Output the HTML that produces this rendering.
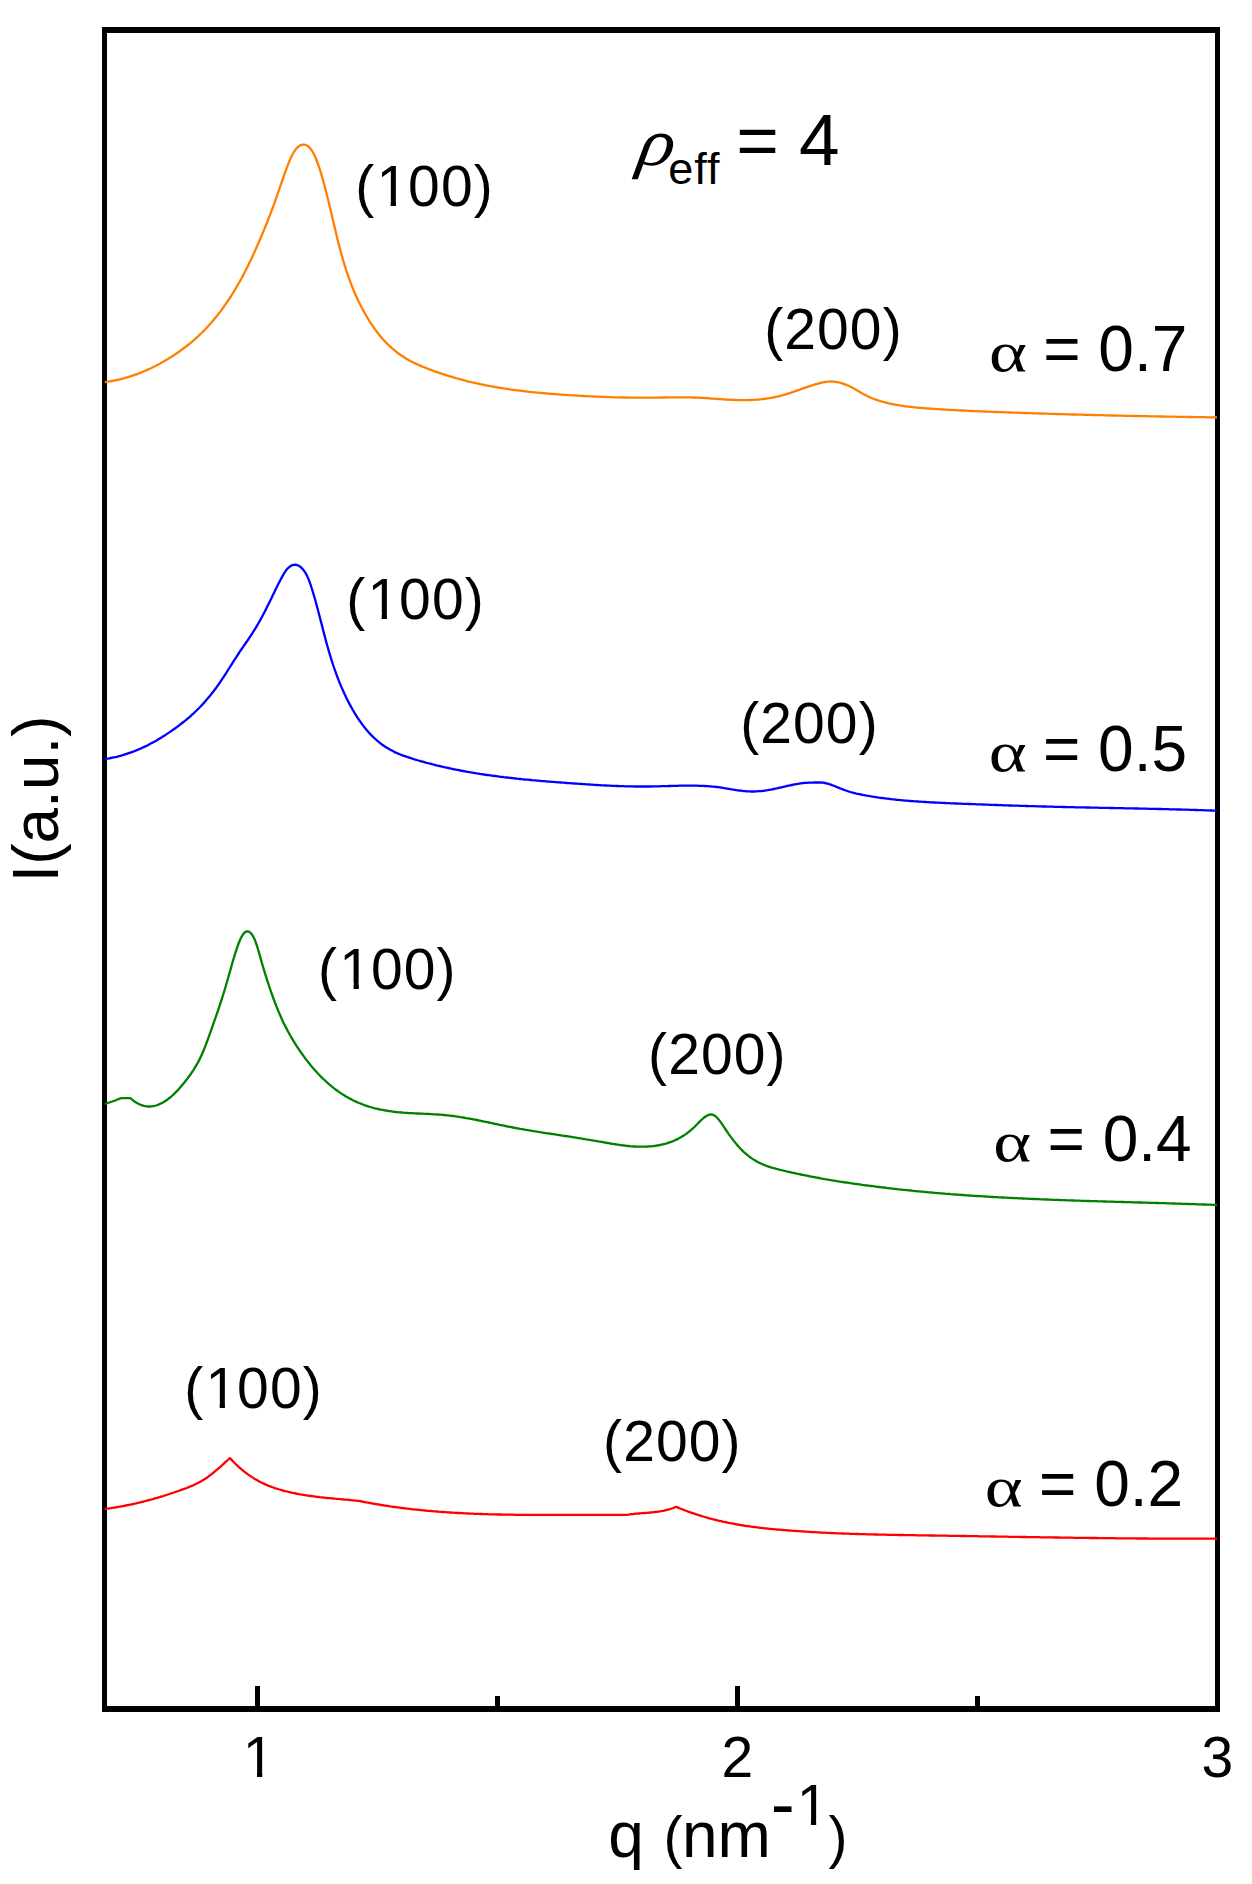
<!DOCTYPE html>
<html><head><meta charset="utf-8"><title>SAXS profiles</title>
<style>
html,body{margin:0;padding:0;background:#fff;}
svg{display:block;}
text{font-family:'Liberation Sans',sans-serif;fill:#000;}
text.gr{font-family:'Liberation Serif','DejaVu Serif',serif;}
</style></head>
<body>
<svg width="1252" height="1884" viewBox="0 0 1252 1884">
<defs>
<clipPath id="c1"><path clip-rule="evenodd" d="M-20,-80 H220 V40 H-20 Z M2.84,-5.86 H14.23 V3 H2.84 Z M19.47,-5.86 H30.42 V3 H19.47 Z"/></clipPath>
<clipPath id="c100"><path clip-rule="evenodd" d="M-20,-80 H220 V40 H-20 Z M24.12,-5.86 H35.51 V3 H24.12 Z M40.75,-5.86 H51.70 V3 H40.75 Z"/></clipPath>
</defs>
<rect x="0" y="0" width="1252" height="1884" fill="#fff"/>
<g id="frame" fill="#000" shape-rendering="crispEdges">
<rect x="102" y="27" width="1118" height="6"/>
<rect x="102" y="1706" width="1118" height="6"/>
<rect x="102" y="27" width="5" height="1685"/>
<rect x="1215" y="27" width="5" height="1685"/>
<rect x="255" y="1686" width="5" height="22"/>
<rect x="735" y="1686" width="5" height="22"/>
<rect x="495" y="1696" width="5" height="12"/>
<rect x="975" y="1696" width="5" height="12"/>
</g>
<g id="curves">
<path d="M104.8,382.1 L106.3,381.9 L107.8,381.7 L109.3,381.4 L110.8,381.2 L112.3,380.9 L113.8,380.6 L115.3,380.3 L116.8,380.0 L118.3,379.7 L119.8,379.3 L121.3,379.0 L122.8,378.6 L124.3,378.2 L125.8,377.7 L127.3,377.3 L128.8,376.9 L130.3,376.4 L131.8,375.9 L133.3,375.4 L134.8,374.9 L136.3,374.3 L137.8,373.8 L139.3,373.2 L140.8,372.6 L142.3,372.0 L143.8,371.4 L145.3,370.8 L146.8,370.1 L148.3,369.4 L149.8,368.7 L151.3,368.0 L152.8,367.3 L154.3,366.5 L155.8,365.8 L157.3,365.0 L158.8,364.2 L160.3,363.4 L161.8,362.5 L163.3,361.7 L164.8,360.8 L166.3,359.9 L167.8,359.0 L169.3,358.1 L170.8,357.2 L172.3,356.2 L173.8,355.2 L175.3,354.2 L176.8,353.2 L178.3,352.2 L179.8,351.1 L181.3,350.0 L182.8,348.9 L184.3,347.8 L185.8,346.7 L187.3,345.5 L188.8,344.3 L190.3,343.1 L191.8,341.8 L193.3,340.6 L194.8,339.3 L196.3,337.9 L197.8,336.5 L199.3,335.1 L200.8,333.7 L202.3,332.2 L203.8,330.7 L205.3,329.2 L206.8,327.6 L208.3,326.0 L209.8,324.4 L211.3,322.7 L212.8,320.9 L214.3,319.1 L215.8,317.3 L217.3,315.4 L218.8,313.5 L220.3,311.6 L221.8,309.6 L223.3,307.5 L224.8,305.4 L226.3,303.2 L227.8,301.0 L229.3,298.8 L230.8,296.5 L232.3,294.1 L233.8,291.7 L235.3,289.2 L236.8,286.6 L238.3,284.0 L239.8,281.4 L241.3,278.7 L242.8,275.9 L244.3,273.0 L245.8,270.1 L247.3,267.2 L248.8,264.1 L250.3,261.0 L251.8,257.9 L253.3,254.6 L254.8,251.3 L256.3,248.0 L257.8,244.5 L259.3,241.1 L260.8,237.5 L262.3,234.0 L263.8,230.4 L265.3,226.7 L266.8,223.0 L268.3,219.2 L269.8,215.4 L271.3,211.5 L272.8,207.5 L274.3,203.4 L275.8,199.2 L277.3,194.9 L278.8,190.5 L280.3,186.2 L281.8,181.8 L283.3,177.5 L284.8,173.2 L286.3,169.1 L287.8,165.1 L289.3,161.4 L290.8,157.9 L292.3,154.8 L293.8,152.2 L295.3,149.9 L296.8,148.1 L298.3,146.6 L299.8,145.6 L301.3,144.9 L302.8,144.6 L304.3,144.6 L305.8,145.0 L307.3,145.7 L308.8,146.9 L310.3,148.5 L311.8,150.5 L313.3,153.0 L314.8,156.0 L316.3,159.5 L317.8,163.5 L319.3,167.8 L320.8,172.6 L322.3,177.6 L323.8,183.0 L325.3,188.6 L326.8,194.5 L328.3,200.5 L329.8,206.7 L331.3,213.0 L332.8,219.4 L334.3,225.8 L335.8,232.1 L337.3,238.4 L338.8,244.4 L340.3,250.1 L341.8,255.6 L343.3,260.8 L344.8,265.8 L346.3,270.5 L347.8,274.9 L349.3,279.2 L350.8,283.2 L352.3,287.1 L353.8,290.8 L355.3,294.3 L356.8,297.6 L358.3,300.8 L359.8,303.8 L361.3,306.8 L362.8,309.6 L364.3,312.3 L365.8,315.0 L367.3,317.5 L368.8,320.0 L370.3,322.4 L371.8,324.7 L373.3,326.9 L374.8,329.0 L376.3,331.0 L377.8,333.0 L379.3,334.9 L380.8,336.7 L382.3,338.5 L383.8,340.2 L385.3,341.8 L386.8,343.4 L388.3,344.8 L389.8,346.3 L391.3,347.7 L392.8,349.0 L394.3,350.2 L395.8,351.5 L397.3,352.6 L398.8,353.7 L400.3,354.8 L401.8,355.8 L403.3,356.8 L404.8,357.8 L406.3,358.7 L407.8,359.5 L409.3,360.4 L410.8,361.2 L412.3,361.9 L413.8,362.7 L415.3,363.4 L416.8,364.1 L418.3,364.8 L419.8,365.4 L421.3,366.1 L422.8,366.7 L424.3,367.3 L425.8,367.9 L427.3,368.5 L428.8,369.1 L430.3,369.6 L431.8,370.2 L433.3,370.8 L434.8,371.3 L436.3,371.8 L437.8,372.4 L439.3,372.9 L440.8,373.4 L442.3,373.9 L443.8,374.4 L445.3,374.9 L446.8,375.4 L448.3,375.8 L449.8,376.3 L451.3,376.7 L452.8,377.2 L454.3,377.6 L455.8,378.1 L457.3,378.5 L458.8,378.9 L460.3,379.3 L461.8,379.7 L463.3,380.1 L464.8,380.5 L466.3,380.9 L467.8,381.3 L469.3,381.6 L470.8,382.0 L472.3,382.4 L473.8,382.7 L475.3,383.0 L476.8,383.4 L478.3,383.7 L479.8,384.0 L481.3,384.4 L482.8,384.7 L484.3,385.0 L485.8,385.3 L487.3,385.6 L488.8,385.9 L490.3,386.1 L491.8,386.4 L493.3,386.7 L494.8,387.0 L496.3,387.2 L497.8,387.5 L499.3,387.7 L500.8,388.0 L502.3,388.2 L503.8,388.4 L505.3,388.7 L506.8,388.9 L508.3,389.1 L509.8,389.3 L511.3,389.6 L512.8,389.8 L514.3,390.0 L515.8,390.2 L517.3,390.4 L518.8,390.6 L520.3,390.7 L521.8,390.9 L523.3,391.1 L524.8,391.3 L526.3,391.4 L527.8,391.6 L529.3,391.8 L530.8,391.9 L532.3,392.1 L533.8,392.3 L535.3,392.4 L536.8,392.6 L538.3,392.7 L539.8,392.8 L541.3,393.0 L542.8,393.1 L544.3,393.2 L545.8,393.4 L547.3,393.5 L548.8,393.6 L550.3,393.8 L551.8,393.9 L553.3,394.0 L554.8,394.1 L556.3,394.2 L557.8,394.3 L559.3,394.4 L560.8,394.6 L562.3,394.7 L563.8,394.8 L565.3,394.9 L566.8,395.0 L568.3,395.1 L569.8,395.2 L571.3,395.3 L572.8,395.4 L574.3,395.4 L575.8,395.5 L577.3,395.6 L578.8,395.7 L580.3,395.8 L581.8,395.9 L583.3,396.0 L584.8,396.1 L586.3,396.1 L587.8,396.2 L589.3,396.3 L590.8,396.4 L592.3,396.4 L593.8,396.5 L595.3,396.6 L596.8,396.6 L598.3,396.7 L599.8,396.8 L601.3,396.8 L602.8,396.9 L604.3,396.9 L605.8,397.0 L607.3,397.1 L608.8,397.1 L610.3,397.2 L611.8,397.2 L613.3,397.3 L614.8,397.3 L616.3,397.3 L617.8,397.4 L619.3,397.4 L620.8,397.4 L622.3,397.5 L623.8,397.5 L625.3,397.5 L626.8,397.6 L628.3,397.6 L629.8,397.6 L631.3,397.6 L632.8,397.7 L634.3,397.7 L635.8,397.7 L637.3,397.7 L638.8,397.7 L640.3,397.7 L641.8,397.7 L643.3,397.7 L644.8,397.7 L646.3,397.7 L647.8,397.7 L649.3,397.7 L650.8,397.7 L652.3,397.7 L653.8,397.6 L655.3,397.6 L656.8,397.6 L658.3,397.6 L659.8,397.6 L661.3,397.5 L662.8,397.5 L664.3,397.5 L665.8,397.5 L667.3,397.4 L668.8,397.4 L670.3,397.4 L671.8,397.4 L673.3,397.4 L674.8,397.3 L676.3,397.3 L677.8,397.3 L679.3,397.3 L680.8,397.3 L682.3,397.3 L683.8,397.3 L685.3,397.3 L686.8,397.3 L688.3,397.4 L689.8,397.4 L691.3,397.4 L692.8,397.5 L694.3,397.5 L695.8,397.6 L697.3,397.6 L698.8,397.7 L700.3,397.8 L701.8,397.9 L703.3,397.9 L704.8,398.0 L706.3,398.1 L707.8,398.2 L709.3,398.3 L710.8,398.5 L712.3,398.6 L713.8,398.7 L715.3,398.8 L716.8,398.9 L718.3,399.0 L719.8,399.1 L721.3,399.2 L722.8,399.3 L724.3,399.4 L725.8,399.5 L727.3,399.6 L728.8,399.7 L730.3,399.8 L731.8,399.8 L733.3,399.9 L734.8,400.0 L736.3,400.0 L737.8,400.1 L739.3,400.1 L740.8,400.1 L742.3,400.1 L743.8,400.1 L745.3,400.1 L746.8,400.1 L748.3,400.1 L749.8,400.0 L751.3,400.0 L752.8,399.9 L754.3,399.8 L755.8,399.7 L757.3,399.6 L758.8,399.5 L760.3,399.3 L761.8,399.2 L763.3,399.0 L764.8,398.8 L766.3,398.6 L767.8,398.4 L769.3,398.2 L770.8,397.9 L772.3,397.6 L773.8,397.3 L775.3,397.0 L776.8,396.7 L778.3,396.3 L779.8,396.0 L781.3,395.6 L782.8,395.2 L784.3,394.7 L785.8,394.3 L787.3,393.8 L788.8,393.3 L790.3,392.9 L791.8,392.4 L793.3,391.9 L794.8,391.3 L796.3,390.8 L797.8,390.3 L799.3,389.8 L800.8,389.2 L802.3,388.7 L803.8,388.2 L805.3,387.7 L806.8,387.1 L808.3,386.6 L809.8,386.1 L811.3,385.6 L812.8,385.1 L814.3,384.7 L815.8,384.2 L817.3,383.8 L818.8,383.3 L820.3,383.0 L821.8,382.6 L823.3,382.3 L824.8,382.0 L826.3,381.8 L827.8,381.7 L829.3,381.6 L830.8,381.5 L832.3,381.6 L833.8,381.7 L835.3,381.8 L836.8,382.1 L838.3,382.3 L839.8,382.7 L841.3,383.1 L842.8,383.6 L844.3,384.1 L845.8,384.6 L847.3,385.3 L848.8,385.9 L850.3,386.7 L851.8,387.4 L853.3,388.3 L854.8,389.1 L856.3,390.0 L857.8,390.8 L859.3,391.7 L860.8,392.6 L862.3,393.5 L863.8,394.3 L865.3,395.1 L866.8,395.8 L868.3,396.6 L869.8,397.2 L871.3,397.9 L872.8,398.5 L874.3,399.0 L875.8,399.6 L877.3,400.1 L878.8,400.6 L880.3,401.0 L881.8,401.5 L883.3,401.9 L884.8,402.3 L886.3,402.7 L887.8,403.1 L889.3,403.4 L890.8,403.8 L892.3,404.1 L893.8,404.4 L895.3,404.7 L896.8,404.9 L898.3,405.2 L899.8,405.4 L901.3,405.7 L902.8,405.9 L904.3,406.1 L905.8,406.3 L907.3,406.5 L908.8,406.7 L910.3,406.8 L911.8,407.0 L913.3,407.2 L914.8,407.3 L916.3,407.5 L917.8,407.6 L919.3,407.8 L920.8,407.9 L922.3,408.0 L923.8,408.1 L925.3,408.3 L926.8,408.4 L928.3,408.5 L929.8,408.6 L931.3,408.7 L932.8,408.8 L934.3,408.9 L935.8,409.0 L937.3,409.1 L938.8,409.2 L940.3,409.3 L941.8,409.4 L943.3,409.5 L944.8,409.6 L946.3,409.7 L947.8,409.8 L949.3,409.9 L950.8,409.9 L952.3,410.0 L953.8,410.1 L955.3,410.2 L956.8,410.2 L958.3,410.3 L959.8,410.4 L961.3,410.5 L962.8,410.5 L964.3,410.6 L965.8,410.7 L967.3,410.7 L968.8,410.8 L970.3,410.9 L971.8,411.0 L973.3,411.0 L974.8,411.1 L976.3,411.2 L977.8,411.2 L979.3,411.3 L980.8,411.3 L982.3,411.4 L983.8,411.5 L985.3,411.5 L986.8,411.6 L988.3,411.7 L989.8,411.7 L991.3,411.8 L992.8,411.8 L994.3,411.9 L995.8,412.0 L997.3,412.0 L998.8,412.1 L1000.3,412.1 L1001.8,412.2 L1003.3,412.2 L1004.8,412.3 L1006.3,412.4 L1007.8,412.4 L1009.3,412.5 L1010.8,412.5 L1012.3,412.6 L1013.8,412.6 L1015.3,412.7 L1016.8,412.7 L1018.3,412.8 L1019.8,412.8 L1021.3,412.9 L1022.8,412.9 L1024.3,413.0 L1025.8,413.0 L1027.3,413.1 L1028.8,413.1 L1030.3,413.2 L1031.8,413.2 L1033.3,413.3 L1034.8,413.3 L1036.3,413.4 L1037.8,413.4 L1039.3,413.5 L1040.8,413.5 L1042.3,413.6 L1043.8,413.6 L1045.3,413.7 L1046.8,413.7 L1048.3,413.7 L1049.8,413.8 L1051.3,413.8 L1052.8,413.9 L1054.3,413.9 L1055.8,414.0 L1057.3,414.0 L1058.8,414.1 L1060.3,414.1 L1061.8,414.2 L1063.3,414.2 L1064.8,414.2 L1066.3,414.3 L1067.8,414.3 L1069.3,414.4 L1070.8,414.4 L1072.3,414.5 L1073.8,414.5 L1075.3,414.5 L1076.8,414.6 L1078.3,414.6 L1079.8,414.7 L1081.3,414.7 L1082.8,414.7 L1084.3,414.8 L1085.8,414.8 L1087.3,414.9 L1088.8,414.9 L1090.3,414.9 L1091.8,415.0 L1093.3,415.0 L1094.8,415.1 L1096.3,415.1 L1097.8,415.1 L1099.3,415.2 L1100.8,415.2 L1102.3,415.2 L1103.8,415.3 L1105.3,415.3 L1106.8,415.3 L1108.3,415.4 L1109.8,415.4 L1111.3,415.5 L1112.8,415.5 L1114.3,415.5 L1115.8,415.6 L1117.3,415.6 L1118.8,415.6 L1120.3,415.7 L1121.8,415.7 L1123.3,415.7 L1124.8,415.8 L1126.3,415.8 L1127.8,415.8 L1129.3,415.9 L1130.8,415.9 L1132.3,415.9 L1133.8,416.0 L1135.3,416.0 L1136.8,416.0 L1138.3,416.1 L1139.8,416.1 L1141.3,416.1 L1142.8,416.2 L1144.3,416.2 L1145.8,416.2 L1147.3,416.2 L1148.8,416.3 L1150.3,416.3 L1151.8,416.3 L1153.3,416.4 L1154.8,416.4 L1156.3,416.4 L1157.8,416.4 L1159.3,416.5 L1160.8,416.5 L1162.3,416.5 L1163.8,416.6 L1165.3,416.6 L1166.8,416.6 L1168.3,416.6 L1169.8,416.7 L1171.3,416.7 L1172.8,416.7 L1174.3,416.7 L1175.8,416.8 L1177.3,416.8 L1178.8,416.8 L1180.3,416.9 L1181.8,416.9 L1183.3,416.9 L1184.8,416.9 L1186.3,416.9 L1187.8,417.0 L1189.3,417.0 L1190.8,417.0 L1192.3,417.0 L1193.8,417.1 L1195.3,417.1 L1196.8,417.1 L1198.3,417.1 L1199.8,417.2 L1201.3,417.2 L1202.8,417.2 L1204.3,417.2 L1205.8,417.2 L1207.3,417.3 L1208.8,417.3 L1210.3,417.3 L1211.8,417.3 L1213.3,417.4 L1214.8,417.4 L1216.3,417.4 L1217.0,417.4" fill="none" stroke="#ff8000" stroke-width="2.3" stroke-linejoin="round"/>
<path d="M104.8,759.0 L106.3,758.8 L107.8,758.6 L109.3,758.3 L110.8,758.0 L112.3,757.7 L113.8,757.4 L115.3,757.1 L116.8,756.8 L118.3,756.4 L119.8,756.0 L121.3,755.6 L122.8,755.2 L124.3,754.7 L125.8,754.2 L127.3,753.7 L128.8,753.2 L130.3,752.7 L131.8,752.2 L133.3,751.6 L134.8,751.0 L136.3,750.4 L137.8,749.8 L139.3,749.1 L140.8,748.5 L142.3,747.8 L143.8,747.1 L145.3,746.4 L146.8,745.7 L148.3,744.9 L149.8,744.1 L151.3,743.3 L152.8,742.5 L154.3,741.7 L155.8,740.9 L157.3,740.0 L158.8,739.1 L160.3,738.2 L161.8,737.3 L163.3,736.3 L164.8,735.4 L166.3,734.4 L167.8,733.4 L169.3,732.4 L170.8,731.4 L172.3,730.3 L173.8,729.3 L175.3,728.2 L176.8,727.1 L178.3,726.0 L179.8,724.9 L181.3,723.7 L182.8,722.5 L184.3,721.3 L185.8,720.1 L187.3,718.8 L188.8,717.6 L190.3,716.3 L191.8,714.9 L193.3,713.6 L194.8,712.2 L196.3,710.7 L197.8,709.2 L199.3,707.7 L200.8,706.2 L202.3,704.6 L203.8,703.0 L205.3,701.3 L206.8,699.6 L208.3,697.8 L209.8,696.0 L211.3,694.1 L212.8,692.2 L214.3,690.3 L215.8,688.3 L217.3,686.2 L218.8,684.1 L220.3,681.9 L221.8,679.7 L223.3,677.4 L224.8,675.1 L226.3,672.8 L227.8,670.4 L229.3,668.0 L230.8,665.7 L232.3,663.3 L233.8,660.9 L235.3,658.6 L236.8,656.3 L238.3,654.0 L239.8,651.7 L241.3,649.5 L242.8,647.3 L244.3,645.2 L245.8,643.0 L247.3,640.8 L248.8,638.6 L250.3,636.4 L251.8,634.1 L253.3,631.7 L254.8,629.3 L256.3,626.9 L257.8,624.4 L259.3,621.8 L260.8,619.1 L262.3,616.3 L263.8,613.5 L265.3,610.6 L266.8,607.6 L268.3,604.5 L269.8,601.5 L271.3,598.4 L272.8,595.3 L274.3,592.2 L275.8,589.1 L277.3,586.1 L278.8,583.1 L280.3,580.2 L281.8,577.4 L283.3,574.7 L284.8,572.2 L286.3,570.1 L287.8,568.3 L289.3,567.0 L290.8,565.9 L292.3,565.2 L293.8,564.8 L295.3,564.7 L296.8,565.0 L298.3,565.5 L299.8,566.4 L301.3,567.6 L302.8,569.2 L304.3,571.1 L305.8,573.5 L307.3,576.4 L308.8,579.9 L310.3,583.9 L311.8,588.5 L313.3,593.4 L314.8,598.5 L316.3,603.9 L317.8,609.5 L319.3,615.2 L320.8,621.0 L322.3,626.9 L323.8,632.7 L325.3,638.4 L326.8,644.0 L328.3,649.3 L329.8,654.4 L331.3,659.3 L332.8,664.0 L334.3,668.5 L335.8,672.7 L337.3,676.8 L338.8,680.7 L340.3,684.4 L341.8,687.9 L343.3,691.3 L344.8,694.6 L346.3,697.7 L347.8,700.7 L349.3,703.6 L350.8,706.4 L352.3,709.0 L353.8,711.6 L355.3,714.1 L356.8,716.5 L358.3,718.8 L359.8,721.0 L361.3,723.1 L362.8,725.1 L364.3,727.1 L365.8,728.9 L367.3,730.7 L368.8,732.4 L370.3,734.1 L371.8,735.6 L373.3,737.1 L374.8,738.5 L376.3,739.9 L377.8,741.2 L379.3,742.4 L380.8,743.6 L382.3,744.7 L383.8,745.8 L385.3,746.8 L386.8,747.7 L388.3,748.6 L389.8,749.5 L391.3,750.3 L392.8,751.1 L394.3,751.9 L395.8,752.6 L397.3,753.2 L398.8,753.9 L400.3,754.5 L401.8,755.1 L403.3,755.7 L404.8,756.2 L406.3,756.7 L407.8,757.2 L409.3,757.7 L410.8,758.2 L412.3,758.7 L413.8,759.1 L415.3,759.6 L416.8,760.0 L418.3,760.5 L419.8,760.9 L421.3,761.3 L422.8,761.7 L424.3,762.1 L425.8,762.6 L427.3,763.0 L428.8,763.4 L430.3,763.7 L431.8,764.1 L433.3,764.5 L434.8,764.9 L436.3,765.3 L437.8,765.6 L439.3,766.0 L440.8,766.3 L442.3,766.7 L443.8,767.0 L445.3,767.4 L446.8,767.7 L448.3,768.0 L449.8,768.3 L451.3,768.7 L452.8,769.0 L454.3,769.3 L455.8,769.6 L457.3,769.9 L458.8,770.2 L460.3,770.5 L461.8,770.8 L463.3,771.0 L464.8,771.3 L466.3,771.6 L467.8,771.9 L469.3,772.1 L470.8,772.4 L472.3,772.6 L473.8,772.9 L475.3,773.1 L476.8,773.4 L478.3,773.6 L479.8,773.9 L481.3,774.1 L482.8,774.3 L484.3,774.5 L485.8,774.8 L487.3,775.0 L488.8,775.2 L490.3,775.4 L491.8,775.6 L493.3,775.8 L494.8,776.0 L496.3,776.2 L497.8,776.4 L499.3,776.6 L500.8,776.8 L502.3,777.0 L503.8,777.2 L505.3,777.3 L506.8,777.5 L508.3,777.7 L509.8,777.9 L511.3,778.0 L512.8,778.2 L514.3,778.4 L515.8,778.5 L517.3,778.7 L518.8,778.8 L520.3,779.0 L521.8,779.2 L523.3,779.3 L524.8,779.5 L526.3,779.6 L527.8,779.7 L529.3,779.9 L530.8,780.0 L532.3,780.2 L533.8,780.3 L535.3,780.4 L536.8,780.6 L538.3,780.7 L539.8,780.8 L541.3,781.0 L542.8,781.1 L544.3,781.2 L545.8,781.3 L547.3,781.5 L548.8,781.6 L550.3,781.7 L551.8,781.8 L553.3,781.9 L554.8,782.1 L556.3,782.2 L557.8,782.3 L559.3,782.4 L560.8,782.5 L562.3,782.6 L563.8,782.7 L565.3,782.9 L566.8,783.0 L568.3,783.1 L569.8,783.2 L571.3,783.3 L572.8,783.4 L574.3,783.5 L575.8,783.6 L577.3,783.7 L578.8,783.8 L580.3,783.9 L581.8,784.0 L583.3,784.1 L584.8,784.2 L586.3,784.3 L587.8,784.4 L589.3,784.5 L590.8,784.6 L592.3,784.7 L593.8,784.8 L595.3,784.9 L596.8,785.0 L598.3,785.1 L599.8,785.2 L601.3,785.3 L602.8,785.3 L604.3,785.4 L605.8,785.5 L607.3,785.6 L608.8,785.7 L610.3,785.7 L611.8,785.8 L613.3,785.9 L614.8,785.9 L616.3,786.0 L617.8,786.0 L619.3,786.1 L620.8,786.1 L622.3,786.2 L623.8,786.2 L625.3,786.3 L626.8,786.3 L628.3,786.4 L629.8,786.4 L631.3,786.4 L632.8,786.4 L634.3,786.5 L635.8,786.5 L637.3,786.5 L638.8,786.5 L640.3,786.5 L641.8,786.5 L643.3,786.5 L644.8,786.5 L646.3,786.5 L647.8,786.5 L649.3,786.5 L650.8,786.5 L652.3,786.4 L653.8,786.4 L655.3,786.4 L656.8,786.3 L658.3,786.3 L659.8,786.3 L661.3,786.2 L662.8,786.2 L664.3,786.1 L665.8,786.1 L667.3,786.1 L668.8,786.0 L670.3,786.0 L671.8,785.9 L673.3,785.9 L674.8,785.8 L676.3,785.8 L677.8,785.8 L679.3,785.7 L680.8,785.7 L682.3,785.7 L683.8,785.7 L685.3,785.6 L686.8,785.6 L688.3,785.6 L689.8,785.6 L691.3,785.6 L692.8,785.6 L694.3,785.7 L695.8,785.7 L697.3,785.7 L698.8,785.8 L700.3,785.8 L701.8,785.9 L703.3,785.9 L704.8,786.0 L706.3,786.1 L707.8,786.2 L709.3,786.3 L710.8,786.4 L712.3,786.6 L713.8,786.7 L715.3,786.9 L716.8,787.0 L718.3,787.2 L719.8,787.4 L721.3,787.6 L722.8,787.8 L724.3,788.1 L725.8,788.3 L727.3,788.6 L728.8,788.8 L730.3,789.1 L731.8,789.3 L733.3,789.6 L734.8,789.8 L736.3,790.1 L737.8,790.3 L739.3,790.5 L740.8,790.7 L742.3,790.9 L743.8,791.1 L745.3,791.2 L746.8,791.3 L748.3,791.4 L749.8,791.4 L751.3,791.5 L752.8,791.5 L754.3,791.5 L755.8,791.4 L757.3,791.3 L758.8,791.2 L760.3,791.1 L761.8,791.0 L763.3,790.8 L764.8,790.6 L766.3,790.4 L767.8,790.2 L769.3,789.9 L770.8,789.6 L772.3,789.3 L773.8,789.0 L775.3,788.7 L776.8,788.4 L778.3,788.0 L779.8,787.7 L781.3,787.3 L782.8,787.0 L784.3,786.6 L785.8,786.3 L787.3,785.9 L788.8,785.6 L790.3,785.3 L791.8,785.0 L793.3,784.7 L794.8,784.4 L796.3,784.1 L797.8,783.8 L799.3,783.6 L800.8,783.4 L802.3,783.2 L803.8,783.0 L805.3,782.9 L806.8,782.8 L808.3,782.7 L809.8,782.6 L811.3,782.6 L812.8,782.6 L814.3,782.5 L815.8,782.5 L817.3,782.5 L818.8,782.5 L820.3,782.5 L821.8,782.6 L823.3,782.7 L824.8,783.0 L826.3,783.3 L827.8,783.7 L829.3,784.2 L830.8,784.6 L832.3,785.2 L833.8,785.8 L835.3,786.4 L836.8,787.0 L838.3,787.6 L839.8,788.2 L841.3,788.8 L842.8,789.4 L844.3,790.0 L845.8,790.5 L847.3,791.0 L848.8,791.5 L850.3,792.0 L851.8,792.4 L853.3,792.8 L854.8,793.2 L856.3,793.6 L857.8,793.9 L859.3,794.2 L860.8,794.5 L862.3,794.8 L863.8,795.1 L865.3,795.4 L866.8,795.7 L868.3,795.9 L869.8,796.2 L871.3,796.4 L872.8,796.7 L874.3,796.9 L875.8,797.1 L877.3,797.3 L878.8,797.6 L880.3,797.8 L881.8,798.0 L883.3,798.2 L884.8,798.4 L886.3,798.6 L887.8,798.7 L889.3,798.9 L890.8,799.1 L892.3,799.3 L893.8,799.4 L895.3,799.6 L896.8,799.8 L898.3,799.9 L899.8,800.1 L901.3,800.2 L902.8,800.3 L904.3,800.5 L905.8,800.6 L907.3,800.7 L908.8,800.9 L910.3,801.0 L911.8,801.1 L913.3,801.2 L914.8,801.3 L916.3,801.4 L917.8,801.5 L919.3,801.6 L920.8,801.7 L922.3,801.8 L923.8,801.9 L925.3,802.0 L926.8,802.1 L928.3,802.2 L929.8,802.3 L931.3,802.4 L932.8,802.4 L934.3,802.5 L935.8,802.6 L937.3,802.7 L938.8,802.7 L940.3,802.8 L941.8,802.9 L943.3,802.9 L944.8,803.0 L946.3,803.1 L947.8,803.1 L949.3,803.2 L950.8,803.3 L952.3,803.3 L953.8,803.4 L955.3,803.5 L956.8,803.5 L958.3,803.6 L959.8,803.6 L961.3,803.7 L962.8,803.8 L964.3,803.8 L965.8,803.9 L967.3,803.9 L968.8,804.0 L970.3,804.0 L971.8,804.1 L973.3,804.2 L974.8,804.2 L976.3,804.3 L977.8,804.3 L979.3,804.4 L980.8,804.4 L982.3,804.5 L983.8,804.6 L985.3,804.6 L986.8,804.7 L988.3,804.7 L989.8,804.8 L991.3,804.8 L992.8,804.9 L994.3,804.9 L995.8,805.0 L997.3,805.0 L998.8,805.1 L1000.3,805.2 L1001.8,805.2 L1003.3,805.3 L1004.8,805.3 L1006.3,805.4 L1007.8,805.4 L1009.3,805.5 L1010.8,805.5 L1012.3,805.6 L1013.8,805.6 L1015.3,805.7 L1016.8,805.7 L1018.3,805.7 L1019.8,805.8 L1021.3,805.8 L1022.8,805.9 L1024.3,805.9 L1025.8,806.0 L1027.3,806.0 L1028.8,806.1 L1030.3,806.1 L1031.8,806.2 L1033.3,806.2 L1034.8,806.2 L1036.3,806.3 L1037.8,806.3 L1039.3,806.4 L1040.8,806.4 L1042.3,806.5 L1043.8,806.5 L1045.3,806.5 L1046.8,806.6 L1048.3,806.6 L1049.8,806.7 L1051.3,806.7 L1052.8,806.7 L1054.3,806.8 L1055.8,806.8 L1057.3,806.8 L1058.8,806.9 L1060.3,806.9 L1061.8,806.9 L1063.3,807.0 L1064.8,807.0 L1066.3,807.1 L1067.8,807.1 L1069.3,807.1 L1070.8,807.2 L1072.3,807.2 L1073.8,807.2 L1075.3,807.3 L1076.8,807.3 L1078.3,807.3 L1079.8,807.4 L1081.3,807.4 L1082.8,807.4 L1084.3,807.4 L1085.8,807.5 L1087.3,807.5 L1088.8,807.5 L1090.3,807.6 L1091.8,807.6 L1093.3,807.6 L1094.8,807.7 L1096.3,807.7 L1097.8,807.7 L1099.3,807.8 L1100.8,807.8 L1102.3,807.8 L1103.8,807.8 L1105.3,807.9 L1106.8,807.9 L1108.3,807.9 L1109.8,808.0 L1111.3,808.0 L1112.8,808.0 L1114.3,808.1 L1115.8,808.1 L1117.3,808.1 L1118.8,808.1 L1120.3,808.2 L1121.8,808.2 L1123.3,808.2 L1124.8,808.3 L1126.3,808.3 L1127.8,808.3 L1129.3,808.4 L1130.8,808.4 L1132.3,808.4 L1133.8,808.4 L1135.3,808.5 L1136.8,808.5 L1138.3,808.5 L1139.8,808.6 L1141.3,808.6 L1142.8,808.6 L1144.3,808.7 L1145.8,808.7 L1147.3,808.7 L1148.8,808.8 L1150.3,808.8 L1151.8,808.8 L1153.3,808.9 L1154.8,808.9 L1156.3,808.9 L1157.8,809.0 L1159.3,809.0 L1160.8,809.0 L1162.3,809.1 L1163.8,809.1 L1165.3,809.1 L1166.8,809.2 L1168.3,809.2 L1169.8,809.3 L1171.3,809.3 L1172.8,809.3 L1174.3,809.4 L1175.8,809.4 L1177.3,809.5 L1178.8,809.5 L1180.3,809.5 L1181.8,809.6 L1183.3,809.6 L1184.8,809.7 L1186.3,809.7 L1187.8,809.7 L1189.3,809.8 L1190.8,809.8 L1192.3,809.9 L1193.8,809.9 L1195.3,810.0 L1196.8,810.0 L1198.3,810.1 L1199.8,810.1 L1201.3,810.2 L1202.8,810.2 L1204.3,810.3 L1205.8,810.3 L1207.3,810.4 L1208.8,810.4 L1210.3,810.5 L1211.8,810.5 L1213.3,810.6 L1214.8,810.6 L1216.3,810.7 L1217.0,810.7" fill="none" stroke="#0000ff" stroke-width="2.3" stroke-linejoin="round"/>
<path d="M104.8,1104.0 L106.3,1103.5 L107.8,1103.0 L109.3,1102.5 L110.8,1102.0 L112.3,1101.5 L113.8,1101.0 L115.3,1100.5 L116.8,1099.8 L118.3,1099.2 L119.8,1098.6 L121.3,1098.2 L122.8,1098.1 L124.3,1098.1 L125.8,1098.1 L127.3,1098.1 L128.8,1098.1 L130.3,1098.1 L130.4,1098.1 L131.9,1099.4 L133.4,1100.6 L134.9,1101.7 L136.4,1102.7 L137.9,1103.5 L139.4,1104.3 L140.9,1104.9 L142.4,1105.4 L143.9,1105.9 L145.4,1106.2 L146.9,1106.4 L148.4,1106.5 L149.9,1106.5 L151.4,1106.4 L152.9,1106.2 L154.4,1105.9 L155.9,1105.5 L157.4,1105.0 L158.9,1104.4 L160.4,1103.8 L161.9,1103.0 L163.4,1102.2 L164.9,1101.3 L166.4,1100.3 L167.9,1099.2 L169.4,1098.0 L170.9,1096.8 L172.4,1095.5 L173.9,1094.1 L175.4,1092.6 L176.9,1091.1 L178.4,1089.5 L179.9,1087.8 L181.4,1086.1 L182.9,1084.3 L184.4,1082.5 L185.9,1080.5 L187.4,1078.6 L188.9,1076.5 L190.4,1074.5 L191.9,1072.3 L193.4,1070.1 L194.9,1067.7 L196.4,1065.2 L197.9,1062.5 L199.4,1059.6 L200.9,1056.6 L202.4,1053.3 L203.9,1049.7 L205.4,1045.9 L206.9,1042.0 L208.4,1037.9 L209.9,1033.7 L211.4,1029.4 L212.9,1025.2 L214.4,1020.9 L215.9,1016.6 L217.4,1012.3 L218.9,1007.9 L220.4,1003.3 L221.9,998.7 L223.4,994.0 L224.9,989.1 L226.4,984.0 L227.9,978.8 L229.4,973.5 L230.9,968.1 L232.4,962.8 L233.9,957.7 L235.4,952.8 L236.9,948.2 L238.4,944.0 L239.9,940.3 L241.4,937.1 L242.9,934.6 L244.4,932.8 L245.9,931.7 L247.4,931.3 L248.9,931.6 L250.4,932.7 L251.9,934.4 L253.4,936.9 L254.9,940.1 L256.4,944.1 L257.9,948.9 L259.4,954.1 L260.9,959.4 L262.4,964.7 L263.9,969.7 L265.4,974.6 L266.9,979.4 L268.4,984.0 L269.9,988.5 L271.4,992.8 L272.9,997.0 L274.4,1001.1 L275.9,1005.0 L277.4,1008.7 L278.9,1012.4 L280.4,1015.8 L281.9,1019.2 L283.4,1022.4 L284.9,1025.5 L286.4,1028.4 L287.9,1031.3 L289.4,1034.0 L290.9,1036.7 L292.4,1039.2 L293.9,1041.7 L295.4,1044.1 L296.9,1046.4 L298.4,1048.7 L299.9,1050.9 L301.4,1053.0 L302.9,1055.1 L304.4,1057.2 L305.9,1059.2 L307.4,1061.1 L308.9,1063.0 L310.4,1064.9 L311.9,1066.7 L313.4,1068.5 L314.9,1070.2 L316.4,1071.8 L317.9,1073.5 L319.4,1075.0 L320.9,1076.6 L322.4,1078.1 L323.9,1079.5 L325.4,1080.9 L326.9,1082.3 L328.4,1083.6 L329.9,1084.9 L331.4,1086.2 L332.9,1087.4 L334.4,1088.6 L335.9,1089.7 L337.4,1090.8 L338.9,1091.9 L340.4,1092.9 L341.9,1093.9 L343.4,1094.8 L344.9,1095.8 L346.4,1096.7 L347.9,1097.5 L349.4,1098.4 L350.9,1099.1 L352.4,1099.9 L353.9,1100.7 L355.4,1101.4 L356.9,1102.1 L358.4,1102.7 L359.9,1103.3 L361.4,1103.9 L362.9,1104.5 L364.4,1105.1 L365.9,1105.6 L367.4,1106.1 L368.9,1106.6 L370.4,1107.0 L371.9,1107.5 L373.4,1107.9 L374.9,1108.3 L376.4,1108.6 L377.9,1109.0 L379.4,1109.3 L380.9,1109.7 L382.4,1109.9 L383.9,1110.2 L385.4,1110.5 L386.9,1110.7 L388.4,1111.0 L389.9,1111.2 L391.4,1111.4 L392.9,1111.6 L394.4,1111.8 L395.9,1112.0 L397.4,1112.1 L398.9,1112.3 L400.4,1112.4 L401.9,1112.5 L403.4,1112.7 L404.9,1112.8 L406.4,1112.9 L407.9,1113.0 L409.4,1113.1 L410.9,1113.2 L412.4,1113.2 L413.9,1113.3 L415.4,1113.4 L416.9,1113.5 L418.4,1113.5 L419.9,1113.6 L421.4,1113.7 L422.9,1113.7 L424.4,1113.8 L425.9,1113.9 L427.4,1113.9 L428.9,1114.0 L430.4,1114.1 L431.9,1114.2 L433.4,1114.3 L434.9,1114.3 L436.4,1114.4 L437.9,1114.5 L439.4,1114.6 L440.9,1114.7 L442.4,1114.9 L443.9,1115.0 L445.4,1115.1 L446.9,1115.3 L448.4,1115.4 L449.9,1115.6 L451.4,1115.8 L452.9,1116.0 L454.4,1116.2 L455.9,1116.4 L457.4,1116.6 L458.9,1116.8 L460.4,1117.1 L461.9,1117.3 L463.4,1117.5 L464.9,1117.8 L466.4,1118.1 L467.9,1118.3 L469.4,1118.6 L470.9,1118.9 L472.4,1119.2 L473.9,1119.5 L475.4,1119.7 L476.9,1120.0 L478.4,1120.3 L479.9,1120.6 L481.4,1121.0 L482.9,1121.3 L484.4,1121.6 L485.9,1121.9 L487.4,1122.2 L488.9,1122.5 L490.4,1122.8 L491.9,1123.2 L493.4,1123.5 L494.9,1123.8 L496.4,1124.1 L497.9,1124.4 L499.4,1124.8 L500.9,1125.1 L502.4,1125.4 L503.9,1125.7 L505.4,1126.0 L506.9,1126.3 L508.4,1126.6 L509.9,1126.9 L511.4,1127.2 L512.9,1127.5 L514.4,1127.8 L515.9,1128.0 L517.4,1128.3 L518.9,1128.6 L520.4,1128.9 L521.9,1129.1 L523.4,1129.4 L524.9,1129.7 L526.4,1129.9 L527.9,1130.2 L529.4,1130.4 L530.9,1130.7 L532.4,1130.9 L533.9,1131.2 L535.4,1131.4 L536.9,1131.6 L538.4,1131.9 L539.9,1132.1 L541.4,1132.4 L542.9,1132.6 L544.4,1132.8 L545.9,1133.1 L547.4,1133.3 L548.9,1133.5 L550.4,1133.7 L551.9,1134.0 L553.4,1134.2 L554.9,1134.4 L556.4,1134.6 L557.9,1134.9 L559.4,1135.1 L560.9,1135.3 L562.4,1135.6 L563.9,1135.8 L565.4,1136.0 L566.9,1136.2 L568.4,1136.5 L569.9,1136.7 L571.4,1136.9 L572.9,1137.2 L574.4,1137.4 L575.9,1137.6 L577.4,1137.9 L578.9,1138.1 L580.4,1138.3 L581.9,1138.6 L583.4,1138.8 L584.9,1139.1 L586.4,1139.3 L587.9,1139.6 L589.4,1139.8 L590.9,1140.1 L592.4,1140.3 L593.9,1140.6 L595.4,1140.8 L596.9,1141.1 L598.4,1141.4 L599.9,1141.6 L601.4,1141.9 L602.9,1142.2 L604.4,1142.5 L605.9,1142.7 L607.4,1143.0 L608.9,1143.2 L610.4,1143.5 L611.9,1143.8 L613.4,1144.0 L614.9,1144.2 L616.4,1144.5 L617.9,1144.7 L619.4,1144.9 L620.9,1145.1 L622.4,1145.3 L623.9,1145.5 L625.4,1145.7 L626.9,1145.9 L628.4,1146.0 L629.9,1146.2 L631.4,1146.3 L632.9,1146.4 L634.4,1146.5 L635.9,1146.6 L637.4,1146.6 L638.9,1146.7 L640.4,1146.7 L641.9,1146.7 L643.4,1146.7 L644.9,1146.7 L646.4,1146.6 L647.9,1146.5 L649.4,1146.4 L650.9,1146.3 L652.4,1146.1 L653.9,1146.0 L655.4,1145.8 L656.9,1145.5 L658.4,1145.3 L659.9,1145.0 L661.4,1144.7 L662.9,1144.3 L664.4,1144.0 L665.9,1143.6 L667.4,1143.1 L668.9,1142.6 L670.4,1142.1 L671.9,1141.6 L673.4,1141.0 L674.9,1140.3 L676.4,1139.6 L677.9,1138.9 L679.4,1138.1 L680.9,1137.2 L682.4,1136.3 L683.9,1135.4 L685.4,1134.4 L686.9,1133.3 L688.4,1132.1 L689.9,1131.0 L691.4,1129.7 L692.9,1128.4 L694.4,1127.0 L695.9,1125.5 L697.4,1124.0 L698.9,1122.4 L700.4,1120.9 L701.9,1119.5 L703.4,1118.2 L704.9,1117.0 L706.4,1116.0 L707.9,1115.2 L709.4,1114.7 L710.9,1114.5 L712.4,1114.7 L713.9,1115.2 L715.4,1116.2 L716.9,1117.5 L718.4,1119.2 L719.9,1121.1 L721.4,1123.2 L722.9,1125.4 L724.4,1127.7 L725.9,1130.0 L727.4,1132.2 L728.9,1134.3 L730.4,1136.4 L731.9,1138.4 L733.4,1140.4 L734.9,1142.3 L736.4,1144.1 L737.9,1145.9 L739.4,1147.5 L740.9,1149.1 L742.4,1150.6 L743.9,1152.1 L745.4,1153.4 L746.9,1154.7 L748.4,1155.9 L749.9,1157.0 L751.4,1158.1 L752.9,1159.1 L754.4,1160.1 L755.9,1160.9 L757.4,1161.8 L758.9,1162.6 L760.4,1163.3 L761.9,1164.0 L763.4,1164.6 L764.9,1165.2 L766.4,1165.8 L767.9,1166.3 L769.4,1166.8 L770.9,1167.3 L772.4,1167.8 L773.9,1168.2 L775.4,1168.6 L776.9,1169.0 L778.4,1169.4 L779.9,1169.8 L781.4,1170.1 L782.9,1170.5 L784.4,1170.9 L785.9,1171.2 L787.4,1171.6 L788.9,1171.9 L790.4,1172.2 L791.9,1172.6 L793.4,1172.9 L794.9,1173.2 L796.4,1173.6 L797.9,1173.9 L799.4,1174.2 L800.9,1174.5 L802.4,1174.8 L803.9,1175.1 L805.4,1175.4 L806.9,1175.7 L808.4,1176.0 L809.9,1176.3 L811.4,1176.6 L812.9,1176.9 L814.4,1177.2 L815.9,1177.5 L817.4,1177.7 L818.9,1178.0 L820.4,1178.3 L821.9,1178.6 L823.4,1178.8 L824.9,1179.1 L826.4,1179.3 L827.9,1179.6 L829.4,1179.9 L830.9,1180.1 L832.4,1180.4 L833.9,1180.6 L835.4,1180.8 L836.9,1181.1 L838.4,1181.3 L839.9,1181.6 L841.4,1181.8 L842.9,1182.0 L844.4,1182.3 L845.9,1182.5 L847.4,1182.7 L848.9,1182.9 L850.4,1183.2 L851.9,1183.4 L853.4,1183.6 L854.9,1183.8 L856.4,1184.0 L857.9,1184.2 L859.4,1184.4 L860.9,1184.6 L862.4,1184.9 L863.9,1185.1 L865.4,1185.3 L866.9,1185.5 L868.4,1185.7 L869.9,1185.9 L871.4,1186.0 L872.9,1186.2 L874.4,1186.4 L875.9,1186.6 L877.4,1186.8 L878.9,1187.0 L880.4,1187.2 L881.9,1187.4 L883.4,1187.5 L884.9,1187.7 L886.4,1187.9 L887.9,1188.1 L889.4,1188.3 L890.9,1188.4 L892.4,1188.6 L893.9,1188.8 L895.4,1188.9 L896.9,1189.1 L898.4,1189.3 L899.9,1189.4 L901.4,1189.6 L902.9,1189.8 L904.4,1189.9 L905.9,1190.1 L907.4,1190.2 L908.9,1190.4 L910.4,1190.5 L911.9,1190.7 L913.4,1190.8 L914.9,1191.0 L916.4,1191.1 L917.9,1191.3 L919.4,1191.4 L920.9,1191.6 L922.4,1191.7 L923.9,1191.9 L925.4,1192.0 L926.9,1192.1 L928.4,1192.3 L929.9,1192.4 L931.4,1192.5 L932.9,1192.7 L934.4,1192.8 L935.9,1192.9 L937.4,1193.1 L938.9,1193.2 L940.4,1193.3 L941.9,1193.4 L943.4,1193.6 L944.9,1193.7 L946.4,1193.8 L947.9,1193.9 L949.4,1194.0 L950.9,1194.2 L952.4,1194.3 L953.9,1194.4 L955.4,1194.5 L956.9,1194.6 L958.4,1194.7 L959.9,1194.8 L961.4,1194.9 L962.9,1195.0 L964.4,1195.1 L965.9,1195.3 L967.4,1195.4 L968.9,1195.5 L970.4,1195.6 L971.9,1195.7 L973.4,1195.8 L974.9,1195.9 L976.4,1196.0 L977.9,1196.1 L979.4,1196.2 L980.9,1196.2 L982.4,1196.3 L983.9,1196.4 L985.4,1196.5 L986.9,1196.6 L988.4,1196.7 L989.9,1196.8 L991.4,1196.9 L992.9,1197.0 L994.4,1197.1 L995.9,1197.1 L997.4,1197.2 L998.9,1197.3 L1000.4,1197.4 L1001.9,1197.5 L1003.4,1197.5 L1004.9,1197.6 L1006.4,1197.7 L1007.9,1197.8 L1009.4,1197.9 L1010.9,1197.9 L1012.4,1198.0 L1013.9,1198.1 L1015.4,1198.2 L1016.9,1198.2 L1018.4,1198.3 L1019.9,1198.4 L1021.4,1198.4 L1022.9,1198.5 L1024.4,1198.6 L1025.9,1198.7 L1027.4,1198.7 L1028.9,1198.8 L1030.4,1198.9 L1031.9,1198.9 L1033.4,1199.0 L1034.9,1199.0 L1036.4,1199.1 L1037.9,1199.2 L1039.4,1199.2 L1040.9,1199.3 L1042.4,1199.4 L1043.9,1199.4 L1045.4,1199.5 L1046.9,1199.5 L1048.4,1199.6 L1049.9,1199.7 L1051.4,1199.7 L1052.9,1199.8 L1054.4,1199.8 L1055.9,1199.9 L1057.4,1199.9 L1058.9,1200.0 L1060.4,1200.1 L1061.9,1200.1 L1063.4,1200.2 L1064.9,1200.2 L1066.4,1200.3 L1067.9,1200.3 L1069.4,1200.4 L1070.9,1200.4 L1072.4,1200.5 L1073.9,1200.5 L1075.4,1200.6 L1076.9,1200.6 L1078.4,1200.7 L1079.9,1200.7 L1081.4,1200.8 L1082.9,1200.8 L1084.4,1200.9 L1085.9,1200.9 L1087.4,1201.0 L1088.9,1201.0 L1090.4,1201.1 L1091.9,1201.1 L1093.4,1201.1 L1094.9,1201.2 L1096.4,1201.2 L1097.9,1201.3 L1099.4,1201.3 L1100.9,1201.4 L1102.4,1201.4 L1103.9,1201.5 L1105.4,1201.5 L1106.9,1201.6 L1108.4,1201.6 L1109.9,1201.6 L1111.4,1201.7 L1112.9,1201.7 L1114.4,1201.8 L1115.9,1201.8 L1117.4,1201.9 L1118.9,1201.9 L1120.4,1201.9 L1121.9,1202.0 L1123.4,1202.0 L1124.9,1202.1 L1126.4,1202.1 L1127.9,1202.2 L1129.4,1202.2 L1130.9,1202.2 L1132.4,1202.3 L1133.9,1202.3 L1135.4,1202.4 L1136.9,1202.4 L1138.4,1202.5 L1139.9,1202.5 L1141.4,1202.5 L1142.9,1202.6 L1144.4,1202.6 L1145.9,1202.7 L1147.4,1202.7 L1148.9,1202.8 L1150.4,1202.8 L1151.9,1202.9 L1153.4,1202.9 L1154.9,1202.9 L1156.4,1203.0 L1157.9,1203.0 L1159.4,1203.1 L1160.9,1203.1 L1162.4,1203.2 L1163.9,1203.2 L1165.4,1203.2 L1166.9,1203.3 L1168.4,1203.3 L1169.9,1203.4 L1171.4,1203.4 L1172.9,1203.5 L1174.4,1203.5 L1175.9,1203.6 L1177.4,1203.6 L1178.9,1203.7 L1180.4,1203.7 L1181.9,1203.8 L1183.4,1203.8 L1184.9,1203.9 L1186.4,1203.9 L1187.9,1204.0 L1189.4,1204.0 L1190.9,1204.1 L1192.4,1204.1 L1193.9,1204.2 L1195.4,1204.2 L1196.9,1204.3 L1198.4,1204.3 L1199.9,1204.4 L1201.4,1204.4 L1202.9,1204.5 L1204.4,1204.5 L1205.9,1204.6 L1207.4,1204.6 L1208.9,1204.7 L1210.4,1204.7 L1211.9,1204.8 L1213.4,1204.9 L1214.9,1204.9 L1216.4,1205.0 L1217.0,1205.0" fill="none" stroke="#008000" stroke-width="2.3" stroke-linejoin="round"/>
<path d="M104.8,1509.0 L106.3,1508.8 L107.8,1508.6 L109.3,1508.4 L110.8,1508.2 L112.3,1507.9 L113.8,1507.7 L115.3,1507.5 L116.8,1507.2 L118.3,1506.9 L119.8,1506.7 L121.3,1506.4 L122.8,1506.1 L124.3,1505.8 L125.8,1505.5 L127.3,1505.2 L128.8,1504.9 L130.3,1504.6 L131.8,1504.3 L133.3,1504.0 L134.8,1503.6 L136.3,1503.3 L137.8,1502.9 L139.3,1502.6 L140.8,1502.2 L142.3,1501.8 L143.8,1501.5 L145.3,1501.1 L146.8,1500.7 L148.3,1500.3 L149.8,1499.9 L151.3,1499.5 L152.8,1499.1 L154.3,1498.6 L155.8,1498.2 L157.3,1497.8 L158.8,1497.3 L160.3,1496.9 L161.8,1496.4 L163.3,1496.0 L164.8,1495.5 L166.3,1495.0 L167.8,1494.5 L169.3,1494.0 L170.8,1493.5 L172.3,1493.0 L173.8,1492.5 L175.3,1492.0 L176.8,1491.5 L178.3,1491.0 L179.8,1490.5 L181.3,1489.9 L182.8,1489.4 L184.3,1488.8 L185.8,1488.3 L187.3,1487.7 L188.8,1487.1 L190.3,1486.5 L191.8,1485.9 L193.3,1485.2 L194.8,1484.5 L196.3,1483.8 L197.8,1483.0 L199.3,1482.2 L200.8,1481.4 L202.3,1480.6 L203.8,1479.6 L205.3,1478.7 L206.8,1477.7 L208.3,1476.6 L209.8,1475.5 L211.3,1474.4 L212.8,1473.2 L214.3,1472.0 L215.8,1470.7 L217.3,1469.4 L218.8,1468.1 L220.3,1466.8 L221.8,1465.5 L223.3,1464.1 L224.8,1462.7 L226.3,1461.3 L227.8,1460.0 L229.3,1458.6 L229.9,1458.0 L231.4,1459.6 L232.9,1461.2 L234.4,1462.8 L235.9,1464.3 L237.4,1465.7 L238.9,1467.1 L240.4,1468.4 L241.9,1469.7 L243.4,1470.9 L244.9,1472.1 L246.4,1473.3 L247.9,1474.4 L249.4,1475.4 L250.9,1476.4 L252.4,1477.4 L253.9,1478.4 L255.4,1479.3 L256.9,1480.1 L258.4,1480.9 L259.9,1481.7 L261.4,1482.5 L262.9,1483.2 L264.4,1483.9 L265.9,1484.6 L267.4,1485.2 L268.9,1485.9 L270.4,1486.4 L271.9,1487.0 L273.4,1487.5 L274.9,1488.1 L276.4,1488.6 L277.9,1489.0 L279.4,1489.5 L280.9,1489.9 L282.4,1490.3 L283.9,1490.8 L285.4,1491.1 L286.9,1491.5 L288.4,1491.9 L289.9,1492.2 L291.4,1492.6 L292.9,1492.9 L294.4,1493.2 L295.9,1493.5 L297.4,1493.8 L298.9,1494.1 L300.4,1494.4 L301.9,1494.6 L303.4,1494.9 L304.9,1495.1 L306.4,1495.4 L307.9,1495.6 L309.4,1495.8 L310.9,1496.0 L312.4,1496.2 L313.9,1496.4 L315.4,1496.6 L316.9,1496.8 L318.4,1497.0 L319.9,1497.2 L321.4,1497.3 L322.9,1497.5 L324.4,1497.6 L325.9,1497.8 L327.4,1498.0 L328.9,1498.1 L330.4,1498.2 L331.9,1498.4 L333.4,1498.5 L334.9,1498.7 L336.4,1498.8 L337.9,1498.9 L339.4,1499.1 L340.9,1499.2 L342.4,1499.3 L343.9,1499.5 L345.4,1499.6 L346.9,1499.7 L348.4,1499.9 L349.9,1500.0 L351.4,1500.2 L352.9,1500.3 L354.4,1500.5 L355.9,1500.6 L357.4,1500.8 L358.8,1500.9 L360.3,1501.2 L361.8,1501.5 L363.3,1501.8 L364.8,1502.1 L366.3,1502.4 L367.8,1502.6 L369.3,1502.9 L370.8,1503.2 L372.3,1503.5 L373.8,1503.7 L375.3,1504.0 L376.8,1504.2 L378.3,1504.5 L379.8,1504.7 L381.3,1505.0 L382.8,1505.2 L384.3,1505.5 L385.8,1505.7 L387.3,1505.9 L388.8,1506.1 L390.3,1506.4 L391.8,1506.6 L393.3,1506.8 L394.8,1507.0 L396.3,1507.2 L397.8,1507.4 L399.3,1507.6 L400.8,1507.8 L402.3,1508.0 L403.8,1508.2 L405.3,1508.4 L406.8,1508.6 L408.3,1508.7 L409.8,1508.9 L411.3,1509.1 L412.8,1509.3 L414.3,1509.4 L415.8,1509.6 L417.3,1509.7 L418.8,1509.9 L420.3,1510.1 L421.8,1510.2 L423.3,1510.4 L424.8,1510.5 L426.3,1510.6 L427.8,1510.8 L429.3,1510.9 L430.8,1511.0 L432.3,1511.2 L433.8,1511.3 L435.3,1511.4 L436.8,1511.5 L438.3,1511.7 L439.8,1511.8 L441.3,1511.9 L442.8,1512.0 L444.3,1512.1 L445.8,1512.2 L447.3,1512.3 L448.8,1512.4 L450.3,1512.5 L451.8,1512.6 L453.3,1512.7 L454.8,1512.8 L456.3,1512.9 L457.8,1513.0 L459.3,1513.0 L460.8,1513.1 L462.3,1513.2 L463.8,1513.3 L465.3,1513.4 L466.8,1513.4 L468.3,1513.5 L469.8,1513.6 L471.3,1513.6 L472.8,1513.7 L474.3,1513.8 L475.8,1513.8 L477.3,1513.9 L478.8,1513.9 L480.3,1514.0 L481.8,1514.0 L483.3,1514.1 L484.8,1514.1 L486.3,1514.2 L487.8,1514.2 L489.3,1514.3 L490.8,1514.3 L492.3,1514.3 L493.8,1514.4 L495.3,1514.4 L496.8,1514.5 L498.3,1514.5 L499.8,1514.5 L501.3,1514.5 L502.8,1514.6 L504.3,1514.6 L505.8,1514.6 L507.3,1514.7 L508.8,1514.7 L510.3,1514.7 L511.8,1514.7 L513.3,1514.7 L514.8,1514.8 L516.3,1514.8 L517.8,1514.8 L519.3,1514.8 L520.8,1514.8 L522.3,1514.8 L523.8,1514.8 L525.3,1514.8 L526.8,1514.9 L528.3,1514.9 L529.8,1514.9 L531.3,1514.9 L532.8,1514.9 L534.3,1514.9 L535.8,1514.9 L537.3,1514.9 L538.8,1514.9 L540.3,1514.9 L541.8,1514.9 L543.3,1514.9 L544.8,1514.9 L546.3,1514.9 L547.8,1514.9 L549.3,1514.9 L550.8,1514.9 L552.3,1514.9 L553.8,1514.9 L555.3,1514.9 L556.8,1514.9 L558.3,1514.9 L559.8,1514.9 L561.3,1514.9 L562.8,1514.9 L564.3,1514.9 L565.8,1514.9 L567.3,1514.9 L568.8,1514.9 L570.3,1514.9 L571.8,1514.8 L573.3,1514.8 L574.8,1514.8 L576.3,1514.8 L577.8,1514.8 L579.3,1514.8 L580.8,1514.8 L582.3,1514.8 L583.8,1514.8 L585.3,1514.8 L586.8,1514.8 L588.3,1514.8 L589.8,1514.8 L591.3,1514.8 L592.8,1514.8 L594.3,1514.8 L595.8,1514.8 L597.3,1514.8 L598.8,1514.8 L600.3,1514.8 L601.8,1514.8 L603.3,1514.8 L604.8,1514.8 L606.3,1514.8 L607.8,1514.8 L609.3,1514.8 L610.8,1514.8 L612.3,1514.8 L613.8,1514.8 L615.3,1514.8 L616.8,1514.8 L618.3,1514.8 L619.8,1514.8 L621.3,1514.9 L622.8,1514.9 L624.3,1514.9 L625.8,1514.9 L626.8,1514.9 L628.3,1514.7 L629.8,1514.4 L631.3,1514.2 L632.8,1514.1 L634.3,1513.9 L635.8,1513.7 L637.3,1513.6 L638.8,1513.5 L640.3,1513.4 L641.8,1513.2 L643.3,1513.1 L644.8,1513.0 L646.3,1512.9 L647.8,1512.8 L649.3,1512.6 L650.8,1512.5 L652.3,1512.4 L653.8,1512.2 L655.3,1512.0 L656.8,1511.8 L658.3,1511.6 L659.8,1511.4 L661.3,1511.1 L662.8,1510.9 L664.3,1510.6 L665.8,1510.2 L667.3,1509.8 L668.8,1509.4 L670.3,1509.0 L671.8,1508.5 L673.3,1508.0 L674.8,1507.4 L676.2,1506.8 L677.7,1507.4 L679.2,1508.1 L680.7,1508.7 L682.2,1509.3 L683.7,1509.9 L685.2,1510.5 L686.7,1511.0 L688.2,1511.6 L689.7,1512.1 L691.2,1512.7 L692.7,1513.2 L694.2,1513.7 L695.7,1514.2 L697.2,1514.7 L698.7,1515.2 L700.2,1515.6 L701.7,1516.1 L703.2,1516.5 L704.7,1517.0 L706.2,1517.4 L707.7,1517.8 L709.2,1518.3 L710.7,1518.7 L712.2,1519.1 L713.7,1519.4 L715.2,1519.8 L716.7,1520.2 L718.2,1520.6 L719.7,1520.9 L721.2,1521.2 L722.7,1521.6 L724.2,1521.9 L725.7,1522.2 L727.2,1522.5 L728.7,1522.9 L730.2,1523.1 L731.7,1523.4 L733.2,1523.7 L734.7,1524.0 L736.2,1524.3 L737.7,1524.5 L739.2,1524.8 L740.7,1525.0 L742.2,1525.3 L743.7,1525.5 L745.2,1525.8 L746.7,1526.0 L748.2,1526.2 L749.7,1526.4 L751.2,1526.6 L752.7,1526.8 L754.2,1527.0 L755.7,1527.2 L757.2,1527.4 L758.7,1527.6 L760.2,1527.8 L761.7,1527.9 L763.2,1528.1 L764.7,1528.3 L766.2,1528.4 L767.7,1528.6 L769.2,1528.8 L770.7,1528.9 L772.2,1529.1 L773.7,1529.2 L775.2,1529.3 L776.7,1529.5 L778.2,1529.6 L779.7,1529.7 L781.2,1529.9 L782.7,1530.0 L784.2,1530.1 L785.7,1530.2 L787.2,1530.4 L788.7,1530.5 L790.2,1530.6 L791.7,1530.7 L793.2,1530.8 L794.7,1530.9 L796.2,1531.0 L797.7,1531.1 L799.2,1531.2 L800.7,1531.3 L802.2,1531.4 L803.7,1531.5 L805.2,1531.6 L806.7,1531.7 L808.2,1531.8 L809.7,1531.9 L811.2,1532.0 L812.7,1532.1 L814.2,1532.2 L815.7,1532.2 L817.2,1532.3 L818.7,1532.4 L820.2,1532.5 L821.7,1532.6 L823.2,1532.6 L824.7,1532.7 L826.2,1532.8 L827.7,1532.9 L829.2,1532.9 L830.7,1533.0 L832.2,1533.1 L833.7,1533.1 L835.2,1533.2 L836.7,1533.3 L838.2,1533.3 L839.7,1533.4 L841.2,1533.4 L842.7,1533.5 L844.2,1533.6 L845.7,1533.6 L847.2,1533.7 L848.7,1533.7 L850.2,1533.8 L851.7,1533.8 L853.2,1533.9 L854.7,1533.9 L856.2,1534.0 L857.7,1534.0 L859.2,1534.1 L860.7,1534.1 L862.2,1534.1 L863.7,1534.2 L865.2,1534.2 L866.7,1534.3 L868.2,1534.3 L869.7,1534.3 L871.2,1534.4 L872.7,1534.4 L874.2,1534.5 L875.7,1534.5 L877.2,1534.5 L878.7,1534.6 L880.2,1534.6 L881.7,1534.6 L883.2,1534.7 L884.7,1534.7 L886.2,1534.7 L887.7,1534.8 L889.2,1534.8 L890.7,1534.8 L892.2,1534.8 L893.7,1534.9 L895.2,1534.9 L896.7,1534.9 L898.2,1535.0 L899.7,1535.0 L901.2,1535.0 L902.7,1535.0 L904.2,1535.1 L905.7,1535.1 L907.2,1535.1 L908.7,1535.1 L910.2,1535.2 L911.7,1535.2 L913.2,1535.2 L914.7,1535.2 L916.2,1535.3 L917.7,1535.3 L919.2,1535.3 L920.7,1535.3 L922.2,1535.3 L923.7,1535.4 L925.2,1535.4 L926.7,1535.4 L928.2,1535.4 L929.7,1535.5 L931.2,1535.5 L932.7,1535.5 L934.2,1535.5 L935.7,1535.6 L937.2,1535.6 L938.7,1535.6 L940.2,1535.6 L941.7,1535.7 L943.2,1535.7 L944.7,1535.7 L946.2,1535.7 L947.7,1535.7 L949.2,1535.8 L950.7,1535.8 L952.2,1535.8 L953.7,1535.8 L955.2,1535.9 L956.7,1535.9 L958.2,1535.9 L959.7,1535.9 L961.2,1536.0 L962.7,1536.0 L964.2,1536.0 L965.7,1536.0 L967.2,1536.1 L968.7,1536.1 L970.2,1536.1 L971.7,1536.1 L973.2,1536.2 L974.7,1536.2 L976.2,1536.2 L977.7,1536.2 L979.2,1536.3 L980.7,1536.3 L982.2,1536.3 L983.7,1536.3 L985.2,1536.4 L986.7,1536.4 L988.2,1536.4 L989.7,1536.4 L991.2,1536.5 L992.7,1536.5 L994.2,1536.5 L995.7,1536.5 L997.2,1536.6 L998.7,1536.6 L1000.2,1536.6 L1001.7,1536.6 L1003.2,1536.7 L1004.7,1536.7 L1006.2,1536.7 L1007.7,1536.7 L1009.2,1536.8 L1010.7,1536.8 L1012.2,1536.8 L1013.7,1536.8 L1015.2,1536.9 L1016.7,1536.9 L1018.2,1536.9 L1019.7,1536.9 L1021.2,1537.0 L1022.7,1537.0 L1024.2,1537.0 L1025.7,1537.0 L1027.2,1537.1 L1028.7,1537.1 L1030.2,1537.1 L1031.7,1537.1 L1033.2,1537.1 L1034.7,1537.2 L1036.2,1537.2 L1037.7,1537.2 L1039.2,1537.2 L1040.7,1537.3 L1042.2,1537.3 L1043.7,1537.3 L1045.2,1537.3 L1046.7,1537.4 L1048.2,1537.4 L1049.7,1537.4 L1051.2,1537.4 L1052.7,1537.4 L1054.2,1537.5 L1055.7,1537.5 L1057.2,1537.5 L1058.7,1537.5 L1060.2,1537.6 L1061.7,1537.6 L1063.2,1537.6 L1064.7,1537.6 L1066.2,1537.6 L1067.7,1537.7 L1069.2,1537.7 L1070.7,1537.7 L1072.2,1537.7 L1073.7,1537.8 L1075.2,1537.8 L1076.7,1537.8 L1078.2,1537.8 L1079.7,1537.8 L1081.2,1537.9 L1082.7,1537.9 L1084.2,1537.9 L1085.7,1537.9 L1087.2,1537.9 L1088.7,1537.9 L1090.2,1538.0 L1091.7,1538.0 L1093.2,1538.0 L1094.7,1538.0 L1096.2,1538.0 L1097.7,1538.1 L1099.2,1538.1 L1100.7,1538.1 L1102.2,1538.1 L1103.7,1538.1 L1105.2,1538.1 L1106.7,1538.2 L1108.2,1538.2 L1109.7,1538.2 L1111.2,1538.2 L1112.7,1538.2 L1114.2,1538.2 L1115.7,1538.3 L1117.2,1538.3 L1118.7,1538.3 L1120.2,1538.3 L1121.7,1538.3 L1123.2,1538.3 L1124.7,1538.4 L1126.2,1538.4 L1127.7,1538.4 L1129.2,1538.4 L1130.7,1538.4 L1132.2,1538.4 L1133.7,1538.4 L1135.2,1538.4 L1136.7,1538.5 L1138.2,1538.5 L1139.7,1538.5 L1141.2,1538.5 L1142.7,1538.5 L1144.2,1538.5 L1145.7,1538.5 L1147.2,1538.5 L1148.7,1538.6 L1150.2,1538.6 L1151.7,1538.6 L1153.2,1538.6 L1154.7,1538.6 L1156.2,1538.6 L1157.7,1538.6 L1159.2,1538.6 L1160.7,1538.6 L1162.2,1538.6 L1163.7,1538.6 L1165.2,1538.6 L1166.7,1538.7 L1168.2,1538.7 L1169.7,1538.7 L1171.2,1538.7 L1172.7,1538.7 L1174.2,1538.7 L1175.7,1538.7 L1177.2,1538.7 L1178.7,1538.7 L1180.2,1538.7 L1181.7,1538.7 L1183.2,1538.7 L1184.7,1538.7 L1186.2,1538.7 L1187.7,1538.7 L1189.2,1538.7 L1190.7,1538.7 L1192.2,1538.7 L1193.7,1538.7 L1195.2,1538.7 L1196.7,1538.7 L1198.2,1538.7 L1199.7,1538.7 L1201.2,1538.7 L1202.7,1538.7 L1204.2,1538.7 L1205.7,1538.7 L1207.2,1538.7 L1208.7,1538.7 L1210.2,1538.7 L1211.7,1538.7 L1213.2,1538.7 L1214.7,1538.7 L1216.2,1538.7 L1217.0,1538.7" fill="none" stroke="#ff0000" stroke-width="2.3" stroke-linejoin="round"/>
</g>
<g id="ticklabels">
<g transform="translate(242.8,1777)"><text font-size="57" clip-path="url(#c1)">1</text></g>
<text x="721.5" y="1777" font-size="57">2</text>
<text x="1201.6" y="1777" font-size="57">3</text>
</g>
<g id="peaklabels">
<g transform="translate(355.17,206.00)"><text font-size="57" letter-spacing="1.1" clip-path="url(#c100)">(<tspan dx="1.2">1</tspan><tspan dx="-1.2">00)</tspan></text></g>
<g transform="translate(764.17,348.70)"><text font-size="57" letter-spacing="1.1">(200)</text></g>
<g transform="translate(346.17,618.70)"><text font-size="57" letter-spacing="1.1" clip-path="url(#c100)">(<tspan dx="1.2">1</tspan><tspan dx="-1.2">00)</tspan></text></g>
<g transform="translate(740.17,742.70)"><text font-size="57" letter-spacing="1.1">(200)</text></g>
<g transform="translate(318.07,988.70)"><text font-size="57" letter-spacing="1.1" clip-path="url(#c100)">(<tspan dx="1.2">1</tspan><tspan dx="-1.2">00)</tspan></text></g>
<g transform="translate(648.07,1073.70)"><text font-size="57" letter-spacing="1.1">(200)</text></g>
<g transform="translate(184.17,1407.60)"><text font-size="57" letter-spacing="1.1" clip-path="url(#c100)">(<tspan dx="1.2">1</tspan><tspan dx="-1.2">00)</tspan></text></g>
<g transform="translate(603.07,1460.70)"><text font-size="57" letter-spacing="1.1">(200)</text></g>
</g>
<g id="alphalabels">
<text transform="translate(989.00,371.00) scale(1.27,1)" class="gr" font-size="57">α</text><text x="1043.17" y="371.00" font-size="64">= 0.7</text>
<text transform="translate(988.70,770.50) scale(1.27,1)" class="gr" font-size="57">α</text><text x="1042.88" y="770.50" font-size="64">= 0.5</text>
<text transform="translate(993.30,1161.00) scale(1.27,1)" class="gr" font-size="57">α</text><text x="1047.47" y="1161.00" font-size="64">= 0.4</text>
<text transform="translate(984.80,1506.00) scale(1.27,1)" class="gr" font-size="57">α</text><text x="1038.97" y="1506.00" font-size="64">= 0.2</text>
</g>
<g id="title">
<text transform="translate(632,165.3) skewX(-20) scale(1.13,1)" class="gr" font-size="67">ρ</text>
<text x="668.2" y="183.6" font-size="45" letter-spacing="1">eff</text>
<text x="736.2" y="165" font-size="73">= 4</text>
</g>
<g id="xlabel">
<text x="608.3" y="1857" font-size="64">q</text>
<text x="663.5" y="1857" font-size="57">(</text>
<text x="682" y="1857" font-size="64">nm</text>
<text x="770.7" y="1827.5" font-size="72">-</text>
<g transform="translate(796.7,1825)"><text font-size="57" clip-path="url(#c1)">1</text></g>
<text x="828.5" y="1857" font-size="57">)</text>
</g>
<g id="ylabel">
<text transform="translate(58,882.6) rotate(-90)" font-size="64">I(a.u.)</text>
</g>
</svg>
</body></html>
